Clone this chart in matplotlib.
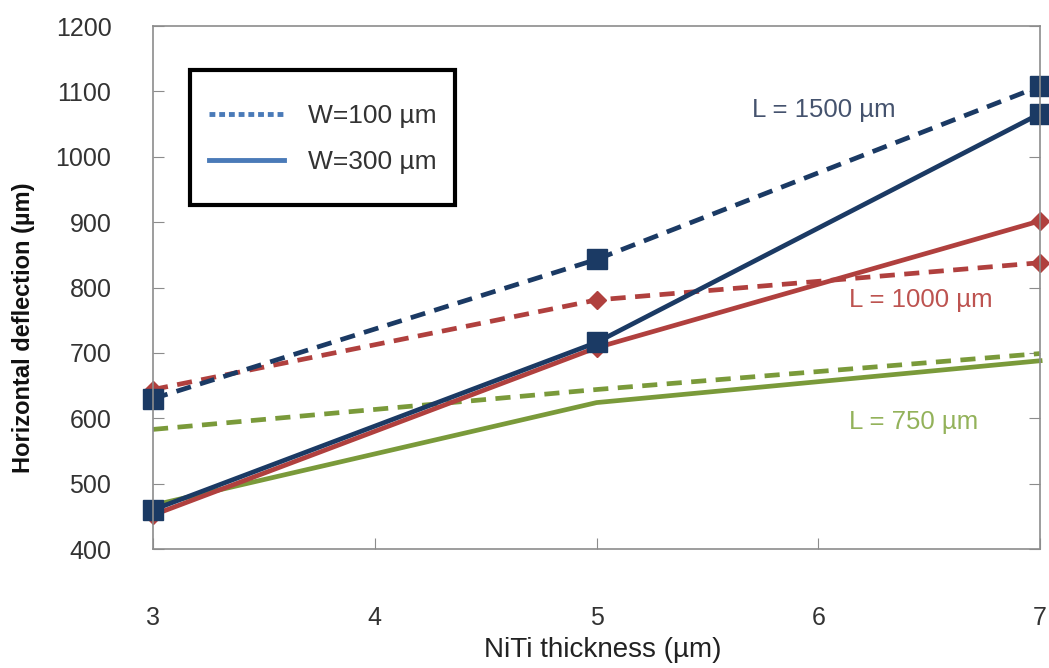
import matplotlib
matplotlib.use("Agg")
import matplotlib.pyplot as plt
from matplotlib.lines import Line2D
from matplotlib.patches import Rectangle

plt.rcParams['font.family'] = ['Liberation Sans', 'DejaVu Sans']

# data
thickness = [3, 5, 7]
l1500_w100 = [630, 843, 1108]
l1500_w300 = [460, 716, 1066]
l1000_w100 = [644, 781, 838]
l1000_w300 = [452, 708, 902]
l750_w100 = [583, 644, 699]
l750_w300 = [467, 624, 688]

yticks = [400, 500, 600, 700, 800, 900, 1000, 1100, 1200]
xticks = [3, 4, 5, 6, 7]

navy = '#1B3A64'
red = '#B0403E'
green = '#7A9A3A'
legend_blue = '#4A7AB8'
axis_gray = '#8C8C8C'

fig = plt.figure(figsize=(10.49, 6.68), dpi=100)
ax = fig.add_axes([0.1459, 0.1781, 0.8456, 0.7829])

dash = (0, (3.2, 2.0))
lw = 3.4

ax.plot(thickness, l750_w100, color=green, lw=lw, linestyle=dash, clip_on=False)
ax.plot(thickness, l750_w300, color=green, lw=lw, clip_on=False)
ax.plot(thickness, l1000_w100, color=red, lw=lw, linestyle=dash, marker='D',
        markersize=9, clip_on=False)
ax.plot(thickness, l1000_w300, color=red, lw=lw, marker='D',
        markersize=9, clip_on=False)
ax.plot(thickness, l1500_w100, color=navy, lw=lw, linestyle=dash, marker='s',
        markersize=14, clip_on=False)
ax.plot(thickness, l1500_w300, color=navy, lw=lw, marker='s',
        markersize=14, clip_on=False)

ax.set_xlim(3, 7)
ax.set_ylim(400, 1200)
ax.set_xticks(xticks)
ax.set_yticks(yticks)

for s in ax.spines.values():
    s.set_color(axis_gray)
    s.set_linewidth(1.2)

ax.tick_params(axis='both', direction='in', length=8, color=axis_gray,
               labelsize=18, labelcolor='#333333')
ax.tick_params(axis='y', right=True, pad=30)
ax.tick_params(axis='x', pad=41)

ax.set_xlabel('NiTi thickness (µm)', fontsize=20, color='#222222')
ax.xaxis.set_label_coords(0.507, -0.168)
ax.set_ylabel('Horizontal deflection (µm)', fontsize=17, fontweight='bold',
              color='#111111')
ax.yaxis.set_label_coords(-0.133, 0.4226)

ax.text(5.70, 1071, 'L = 1500 µm', fontsize=18.5, color='#45536E', va='center', ha='left')
ax.text(6.14, 781, 'L = 1000 µm', fontsize=18.5, color='#BD5350', va='center', ha='left')
ax.text(6.14, 594, 'L = 750 µm', fontsize=18.5, color='#93B25A', va='center', ha='left')

# legend box drawn in figure pixels fractions
box = Rectangle((190 / 1049, 1 - 205 / 668), 265 / 1049, 135 / 668,
                transform=fig.transFigure, facecolor='white', edgecolor='black',
                linewidth=3, zorder=5)
fig.patches.append(box)

handles = [
    Line2D([0], [0], color=legend_blue, lw=3.5, linestyle=(0, (1.2, 0.8))),
    Line2D([0], [0], color=legend_blue, lw=3.5),
]
leg = fig.legend(handles, ['W=100 µm', 'W=300 µm'], loc='center',
                 bbox_to_anchor=(322.5 / 1049, 1 - 139 / 668), fontsize=19,
                 frameon=False, handlelength=2.85, handletextpad=0.9,
                 labelspacing=0.85, borderpad=0)
leg.set_zorder(6)
for t in leg.get_texts():
    t.set_color('#333333')

fig.savefig('out.png', dpi=100)
